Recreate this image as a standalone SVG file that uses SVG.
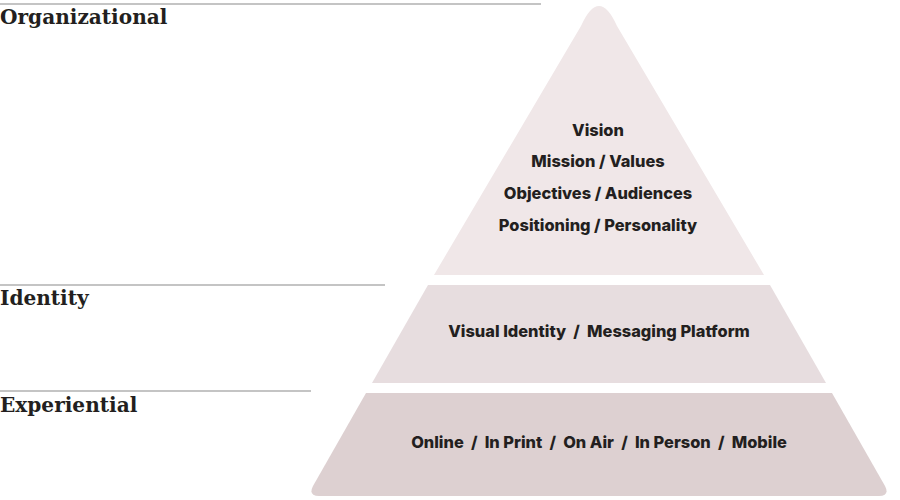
<svg xmlns="http://www.w3.org/2000/svg" width="900" height="500" viewBox="0 0 900 500">
<style>
.lbl{font-family:"DejaVu Serif","Liberation Serif",serif;font-weight:bold;font-size:20.1px;fill:#231f20}
.rule{stroke:#8a8a8a;stroke-width:1.2;fill:none}
.t{font-family:Inter,"Liberation Sans",sans-serif;font-weight:800;font-size:16.4px;fill:#231f20;text-anchor:middle}
</style>
<rect width="900" height="500" fill="#ffffff"/>
<g id="label-organizational">
<line class="rule" x1="0" y1="4" x2="541" y2="4"/>
<text class="lbl" x="0" y="24">Organizational</text>
</g>
<g id="label-identity">
<line class="rule" x1="0" y1="285" x2="385" y2="285"/>
<text class="lbl" x="0" y="305">Identity</text>
</g>
<g id="label-experiential">
<line class="rule" x1="0" y1="391" x2="311" y2="391"/>
<text class="lbl" x="0" y="412">Experiential</text>
</g>
<g id="tier-organizational">
<path d="M434,275 L581,26 Q599,-14 617,26 L764,275 Z" fill="#f0e7e8"/>
<text class="t" x="598" y="136">Vision</text>
<text class="t" x="598" y="167">Mission / Values</text>
<text class="t" x="598" y="199">Objectives / Audiences</text>
<text class="t" x="598" y="231">Positioning / Personality</text>
</g>
<g id="tier-identity">
<path d="M428,285 L770,285 L826,383 L372,383 Z" fill="#e7dddf"/>
<text class="t" x="599" y="337" xml:space="preserve">Visual Identity  /  Messaging Platform</text>
</g>
<g id="tier-experiential">
<path d="M366,393 L832,393 L885,486 Q890,496 879,496 L319,496 Q308,496 313,486 Z" fill="#ddd0d1"/>
<text class="t" x="599" y="448" xml:space="preserve">Online  /  In Print  /  On Air  /  In Person  /  Mobile</text>
</g>
<g id="connectors"></g>
</svg>
